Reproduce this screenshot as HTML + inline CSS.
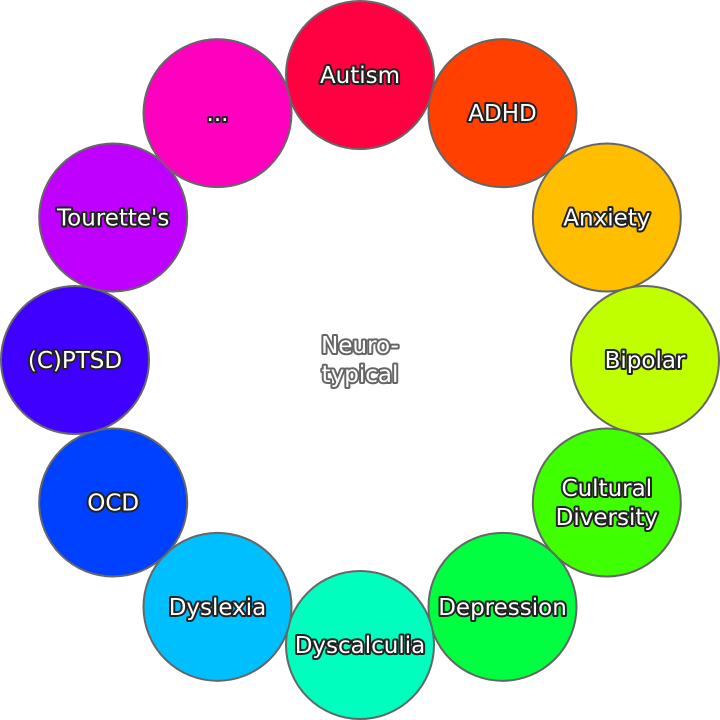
<!DOCTYPE html>
<html><head><meta charset="utf-8"><style>
html,body{margin:0;padding:0;background:#fff;}
svg{display:block;}
text{font-family:"DejaVu Sans","Liberation Sans",sans-serif;font-size:23px;fill:#fff;stroke:#222;stroke-width:4px;paint-order:stroke;stroke-linejoin:round;text-anchor:middle;dominant-baseline:central;}
</style></head><body>
<svg id="chart" width="720" height="720">
<text x="360" y="346" style="stroke:#666">Neuro-</text>
<text x="360" y="375" style="stroke:#666">typical</text>
</svg>
<script>
const labels = [["Autism"],["ADHD"],["Anxiety"],["Bipolar"],["Cultural","Diversity"],["Depression"],["Dyscalculia"],["Dyslexia"],["OCD"],["(C)PTSD"],["Tourette's"],["..."]];
const hues = [345,15,45,75,105,135,165,195,225,255,285,315];
const svg = document.getElementById('chart');
const NS = 'http://www.w3.org/2000/svg';
const cx = 360, cy = 360, R = 285, r = 74;
labels.forEach((lab, i) => {
  const a = (i * 30 - 90) * Math.PI / 180;
  const x = cx + R * Math.cos(a), y = cy + R * Math.sin(a);
  const c = document.createElementNS(NS, 'circle');
  c.setAttribute('cx', x); c.setAttribute('cy', y); c.setAttribute('r', r);
  c.setAttribute('fill', `hsl(${hues[i]},100%,50%)`);
  c.setAttribute('stroke', '#666'); c.setAttribute('stroke-width', '2');
  
  
  svg.appendChild(c);
  lab.forEach((line, j) => {
    const t = document.createElementNS(NS, 'text');
    t.setAttribute('x', x);
    t.setAttribute('y', y + (j - (lab.length - 1) / 2) * 29 + 1);
    t.textContent = line;
    
    
    svg.appendChild(t);
  });
});
</script>
</body></html>
